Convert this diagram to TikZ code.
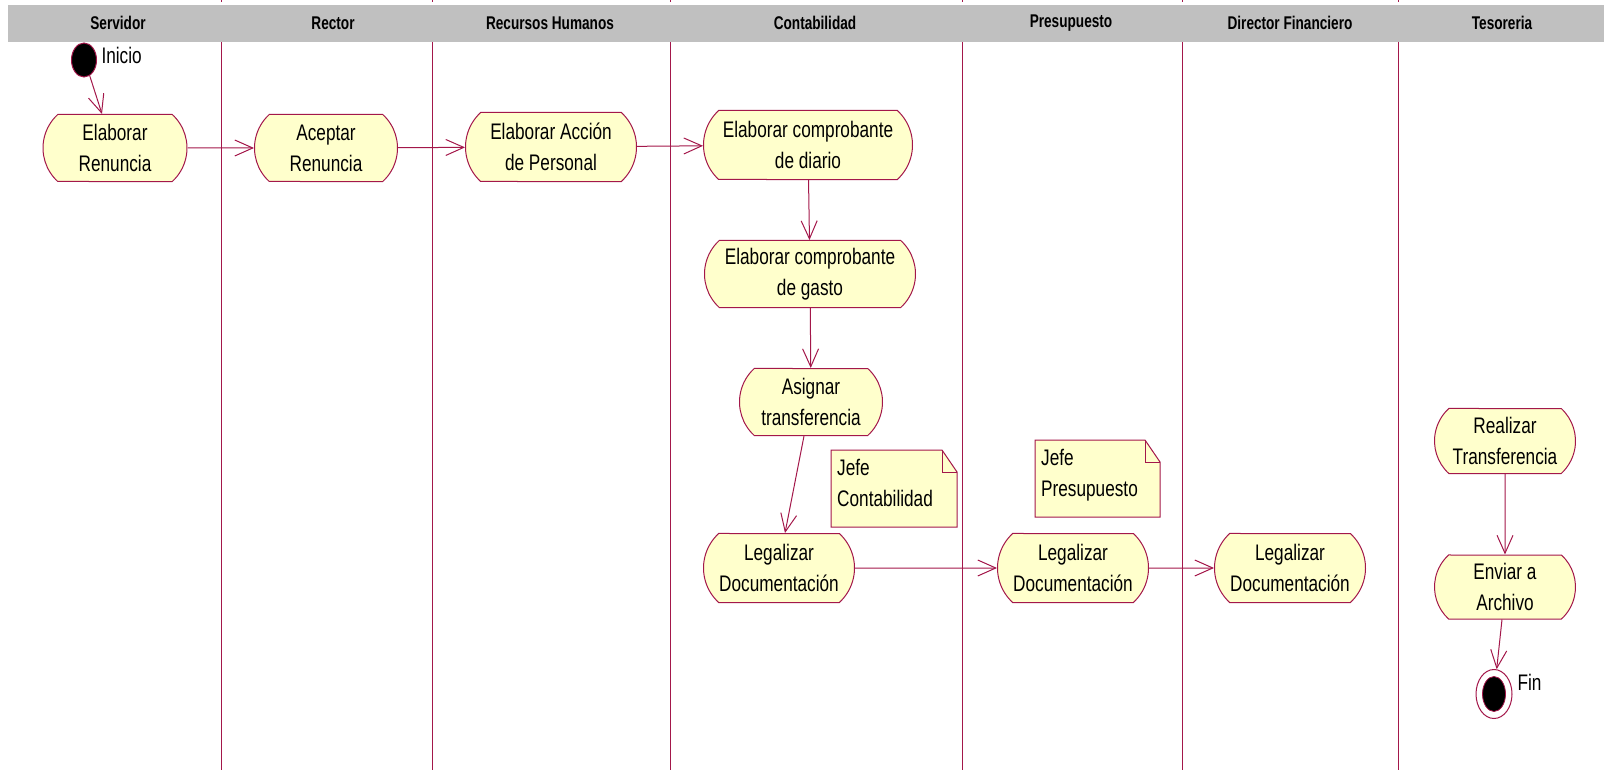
\documentclass[tikz,border=0pt]{standalone}
\usepackage{fontspec}
\usepackage{xcolor}
\usetikzlibrary{shapes.misc, shapes.geometric, arrows.meta, calc}
\newfontfamily\rosefont[FakeStretch=0.765]{Liberation Sans}
\newfontfamily\roseheadfont[FakeStretch=0.74]{Liberation Sans}
\definecolor{rose-line}{HTML}{A3174A}
\definecolor{rose-fill}{HTML}{FFFFCC}
\definecolor{lane-grey}{HTML}{C0C0C0}

\begin{document}
\begin{tikzpicture}[x=1pt, y=-1pt,
      every node/.style={font=\rosefont\fontsize{22.5}{31}\selectfont},
      lane/.style={draw=rose-line, line width=1pt},
      lanehead/.style={font=\roseheadfont\bfseries\fontsize{18.4}{22}\selectfont},
      activity/.style={rounded rectangle, rounded rectangle arc length=95,
          draw=rose-line, fill=rose-fill, line width=1pt, align=center,
          minimum width=149pt, minimum height=67pt, inner xsep=3pt},
      noteline/.style={draw=rose-line, line width=1pt},
      notetext/.style={anchor=north west, align=left, inner sep=3pt},
      flow/.style={draw=rose-line, line width=1pt,
          -{Straight Barb[length=18pt, width=16pt, line width=1pt]}},
      startdot/.style={ellipse, draw=rose-line, fill=black, line width=1pt,
          minimum width=25pt, minimum height=34pt, inner sep=0pt},
      endring/.style={ellipse, draw=rose-line, fill=white, line width=1pt,
          minimum width=36pt, minimum height=49pt, inner sep=0pt},
      enddot/.style={ellipse, draw=rose-line, fill=black, line width=0.8pt,
          minimum width=23pt, minimum height=35pt, inner sep=0pt}]

    \useasboundingbox (0,0) rectangle (1604,770);

    % grey title band and swimlane borders
    \fill[lane-grey] (8,5) rectangle (1604,42);
    \foreach \x in {221,432,670,962,1182,1398} {
      \draw[lane] (\x,0) -- (\x,2);
      \draw[lane] (\x,42) -- (\x,770);
    }
    \node[lanehead] (hServ) at (118,23) {Servidor};
    \node[lanehead] (hRect) at (333,23) {Rector};
    \node[lanehead] (hRRHH) at (550,23) {Recursos Humanos};
    \node[lanehead] (hCont) at (815,23) {Contabilidad};
    \node[lanehead] (hPres) at (1071,23) {Presupuesto};
    \node[lanehead] (hDir) at (1290,23) {Director Financiero};
    \node[lanehead] (hTes) at (1502,23) {Tesoreria};

    % start
    \node[startdot] (inicio) at (84,60) {};
    \node[anchor=west] (inicioLbl) at (98,55) {Inicio};

    % activities
    \node[activity, minimum width=150pt] (elabRen) at (115,148) {Elaborar\\Renuncia};
    \node[activity] (acepRen) at (326,148) {Aceptar\\Renuncia};
    \node[activity, minimum width=177pt, minimum height=69pt] (elabAcc) at (551,147) {Elaborar Acción\\de Personal};
    \node[activity, minimum width=215pt, minimum height=69pt] (compDia) at (808,145) {Elaborar comprobante\\de diario};
    \node[activity, minimum width=217pt] (compGas) at (810,274) {Elaborar comprobante\\de gasto};
    \node[activity] (asigTr) at (811,402) {Asignar\\transferencia};
    \node[activity, minimum width=157pt, minimum height=69pt] (legCont) at (779,568) {Legalizar\\Documentación};
    \node[activity, minimum width=157pt, minimum height=69pt] (legPres) at (1073,568) {Legalizar\\Documentación};
    \node[activity, minimum width=157pt, minimum height=69pt] (legDir) at (1290,568) {Legalizar\\Documentación};
    \node[activity, minimum width=147pt, minimum height=65pt] (realTr) at (1505,441) {Realizar\\Transferencia};
    \node[activity, minimum width=147pt, minimum height=64pt] (envArc) at (1505,587) {Enviar a\\Archivo};

    % notes with folded corner
    \coordinate (noteContNW) at (831,450);
    \draw[noteline, fill=rose-fill] (noteContNW) -- ++(111,0) -- ++(15,22) -- ++(0,55) -- ++(-126,0) -- cycle;
    \draw[noteline] (noteContNW) ++(111,0) -- ++(0,22) -- ++(15,0);
    \node[notetext] (noteCont) at (834,456) {Jefe\\Contabilidad};
    \coordinate (notePresNW) at (1035,440);
    \draw[noteline, fill=rose-fill] (notePresNW) -- ++(110,0) -- ++(15,22) -- ++(0,55) -- ++(-125,0) -- cycle;
    \draw[noteline] (notePresNW) ++(110,0) -- ++(0,22) -- ++(15,0);
    \node[notetext] (notePres) at (1038,446) {Jefe\\Presupuesto};

    % end
    \node[endring] (fin) at (1494,694) {};
    \node[enddot] (finDot) at (fin) {};
    \node[anchor=west] (finLbl) at (1514,682) {Fin};

    % control flow
    \draw[flow] (inicio.-70) -- ($(elabRen.north)+(-13,0)$);
    \draw[flow] (elabRen) -- (acepRen);
    \draw[flow] (acepRen) -- (elabAcc);
    \draw[flow] (elabAcc) -- (compDia);
    \draw[flow] (compDia) -- (compGas);
    \draw[flow] (compGas) -- (asigTr);
    \draw[flow] ($(asigTr.south)+(-7,0)$) -- ($(legCont.north)+(6,0)$);
    \draw[flow] (legCont) -- (legPres);
    \draw[flow] (legPres) -- (legDir);
    \draw[flow] (realTr) -- (envArc);
    \draw[flow] ($(envArc.south)+(-3,0)$) -- (fin);
  \end{tikzpicture}
\end{document}
